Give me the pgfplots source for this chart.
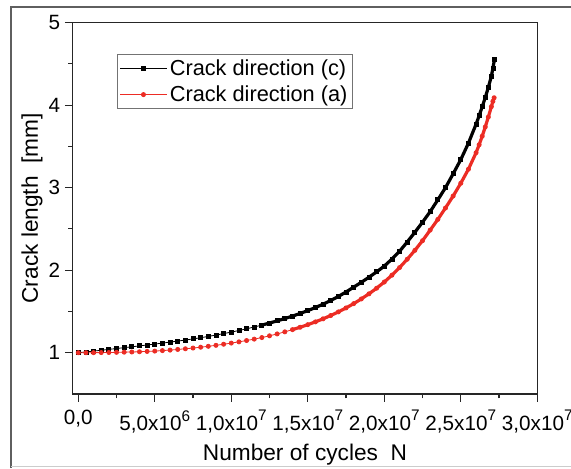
\documentclass[border=0pt]{standalone}
\usepackage{pgfplots}
\pgfplotsset{compat=1.18}
\usepackage{pgfplotstable}
\usepackage{fontspec}
\setmainfont{Liberation Sans}
\definecolor{myred}{RGB}{236,44,36}
\definecolor{framegray}{RGB}{95,95,95}
\newcommand{\sci}[2]{#1x10\raisebox{0.45em}{\fontsize{11.5}{12}\selectfont #2}}

\pgfplotstableread{
N a
0 1.000
0.05e7 1.010
0.10e7 1.020
0.15e7 1.030
0.20e7 1.041
0.25e7 1.051
0.30e7 1.062
0.35e7 1.072
0.40e7 1.083
0.45e7 1.094
0.50e7 1.105
0.55e7 1.117
0.60e7 1.129
0.65e7 1.141
0.70e7 1.154
0.75e7 1.168
0.80e7 1.182
0.85e7 1.198
0.90e7 1.214
0.95e7 1.232
1.00e7 1.250
1.05e7 1.270
1.10e7 1.290
1.15e7 1.312
1.20e7 1.335
1.25e7 1.360
1.30e7 1.386
1.35e7 1.414
1.40e7 1.444
1.45e7 1.476
1.50e7 1.510
1.55e7 1.548
1.60e7 1.588
1.65e7 1.633
1.70e7 1.682
1.75e7 1.736
1.80e7 1.795
1.85e7 1.853
1.90e7 1.915
1.95e7 1.980
2.00e7 2.050
2.05e7 2.135
2.10e7 2.230
2.15e7 2.342
2.20e7 2.460
2.25e7 2.582
2.30e7 2.710
2.35e7 2.853
2.40e7 3.000
2.45e7 3.168
2.50e7 3.340
2.55e7 3.540
2.60e7 3.770
2.62e7 3.872
2.64e7 3.980
2.66e7 4.092
2.68e7 4.215
2.70e7 4.350
2.71e7 4.450
2.72e7 4.550
}\blackdata

\pgfplotstableread{
N a
0 1.000
0.05e7 1.000
0.10e7 1.001
0.15e7 1.002
0.20e7 1.003
0.25e7 1.005
0.30e7 1.007
0.35e7 1.009
0.40e7 1.012
0.45e7 1.016
0.50e7 1.020
0.55e7 1.026
0.60e7 1.032
0.65e7 1.040
0.70e7 1.048
0.75e7 1.057
0.80e7 1.067
0.85e7 1.078
0.90e7 1.090
0.95e7 1.103
1.00e7 1.117
1.05e7 1.132
1.10e7 1.148
1.15e7 1.165
1.20e7 1.184
1.25e7 1.205
1.30e7 1.228
1.35e7 1.253
1.40e7 1.280
1.45e7 1.309
1.50e7 1.340
1.55e7 1.374
1.60e7 1.411
1.65e7 1.451
1.70e7 1.495
1.75e7 1.543
1.80e7 1.595
1.85e7 1.652
1.90e7 1.714
1.95e7 1.782
2.00e7 1.857
2.05e7 1.940
2.10e7 2.032
2.15e7 2.133
2.20e7 2.241
2.25e7 2.358
2.30e7 2.486
2.35e7 2.616
2.40e7 2.754
2.45e7 2.899
2.50e7 3.054
2.55e7 3.224
2.60e7 3.424
2.62e7 3.520
2.64e7 3.624
2.66e7 3.736
2.68e7 3.856
2.70e7 3.982
2.71e7 4.047
2.718e7 4.090
}\reddata

\begin{document}
\begin{tikzpicture}
\useasboundingbox (0,0) rectangle (428.25pt,351pt);
\draw[framegray, line width=0.8pt] (8.25pt,0pt) -- (8.25pt,345.75pt) -- (430pt,345.75pt);
\draw[black!20, line width=0.6pt] (8.25pt,1.5pt) -- (430pt,1.5pt);
\begin{axis}[
  at={(54.5pt,55.5pt)}, anchor=south west,
  scale only axis, width=348.45pt, height=278.5pt,
  xmin=-3.66e5, xmax=3e7, ymin=0.5, ymax=5,
  axis line style={black!85, line width=0.8pt},
  tick style={black!85, line width=0.8pt},
  tick align=outside, tick pos=left,
  major tick length=5.8pt, minor tick length=3.2pt,
  xtick={0,5e6,1e7,1.5e7,2e7,2.5e7,3e7},
  xticklabels={{0,0},{\sci{5,0}{6}},{\sci{1,0}{7}},{\sci{1,5}{7}},{\sci{2,0}{7}},{\sci{2,5}{7}},{\sci{3,0}{7}}},
  scaled x ticks=false,
  minor x tick num=1,
  ytick={1,2,3,4,5}, yticklabels={1,2,3,4,5},
  minor y tick num=1,
  ticklabel style={font=\fontsize{15.5}{18}\selectfont},
  xticklabel style={yshift=-3pt},
  xlabel={Number of cycles\ \ N},
  ylabel={Crack length\ \ [mm]},
  xlabel style={font=\fontsize{17}{20}\selectfont, at={(axis description cs:0.5,-0.178)}, anchor=base},
  ylabel style={font=\fontsize{17}{20}\selectfont, at={(axis description cs:-0.0876,0.5)}, anchor=center, rotate=0},
  legend style={at={(0.0947,0.915)}, anchor=north west, draw=black!55, line width=0.6pt,
    font=\fontsize{16.3}{19}\selectfont, inner xsep=2pt, inner ysep=1.5pt, row sep=2.5pt,
    /tikz/every even column/.append style={column sep=0pt}},
  legend cell align=left,
  legend image code/.code={\draw[#1, mark repeat=2, mark phase=2, line width=0.6pt] plot coordinates {(0pt,0pt) (17.5pt,0pt) (35pt,0pt)};},
]
\addplot[black, line width=2.4pt, forget plot, restrict x to domain=1.2e7:3e7] table[x=N,y=a] {\blackdata};
\addplot[myred, line width=2.4pt, forget plot, restrict x to domain=1.4e7:3e7] table[x=N,y=a] {\reddata};
\addplot[black, line width=0.6pt, mark=square*, mark size=1.5pt, mark options={solid}] table[x=N,y=a] {\blackdata};
\addlegendentry{Crack direction (c)}
\addplot[myred, line width=0.6pt, mark=*, mark size=1.55pt, mark options={solid}] table[x=N,y=a] {\reddata};
\addlegendentry{Crack direction (a)}
\end{axis}
\end{tikzpicture}
\end{document}
